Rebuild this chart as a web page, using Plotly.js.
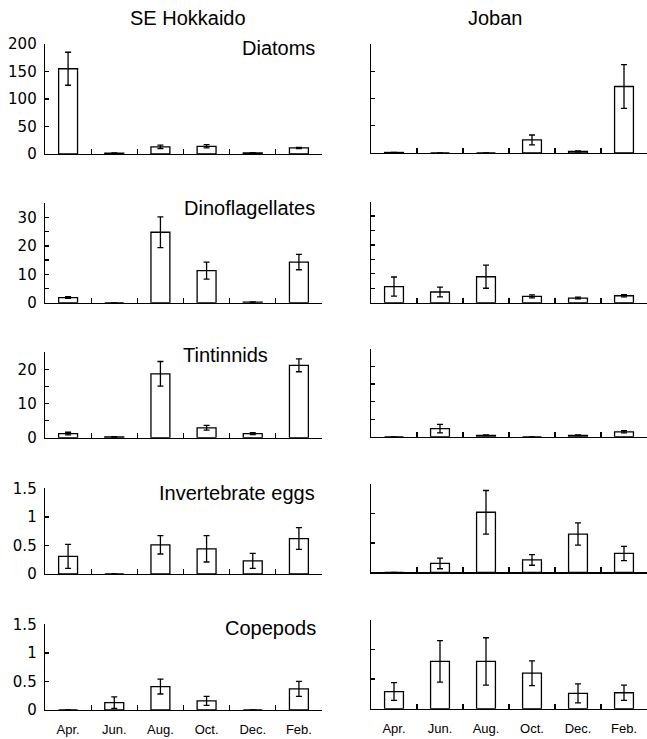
<!DOCTYPE html>
<html>
<head>
<meta charset="utf-8">
<script src="https://cdn.plot.ly/plotly-3.0.1.min.js"></script>
<style>html,body{margin:0;padding:0;background:#fff;}#chart{width:647px;height:739px;}</style>
</head>
<body>
<div id="chart"></div>
<script>
// ---- data ----
const months = ['Apr.', 'Jun.', 'Aug.', 'Oct.', 'Dec.', 'Feb.'];
const columnTitles = ['SE Hokkaido', 'Joban'];
const groupNames = ['Diatoms', 'Dinoflagellates', 'Tintinnids', 'Invertebrate eggs', 'Copepods'];

const hokDiatoms    = [155, 1.5, 13, 14, 2, 11];
const hokDiatomsErr = [30, 0.5, 3, 3, 0.5, 1];
const jobDiatoms    = [1, 0, 0, 24, 3, 122];
const jobDiatomsErr = [0.3, 0, 0, 9, 1, 40];

const hokDino    = [1.8, 0, 24.8, 11.3, 0.2, 14.3];
const hokDinoErr = [0.3, 0, 5.4, 3.0, 0.1, 2.7];
const jobDino    = [5.6, 3.7, 9.0, 2.2, 1.6, 2.4];
const jobDinoErr = [3.3, 1.7, 4.0, 0.5, 0.3, 0.4];

const hokTint    = [1.2, 0.2, 18.7, 2.9, 1.2, 21.2];
const hokTintErr = [0.4, 0.1, 3.6, 0.7, 0.3, 1.9];
const jobTint    = [0, 2.3, 0.4, 0, 0.4, 1.4];
const jobTintErr = [0, 1.2, 0.1, 0, 0.1, 0.3];

const hokEggs    = [0.31, 0, 0.51, 0.44, 0.23, 0.62];
const hokEggsErr = [0.21, 0, 0.16, 0.23, 0.13, 0.19];
const jobEggs    = [0, 0.15, 1.02, 0.21, 0.65, 0.32];
const jobEggsErr = [0, 0.09, 0.37, 0.09, 0.19, 0.12];

const hokCope    = [0, 0.13, 0.41, 0.16, 0, 0.37];
const hokCopeErr = [0, 0.10, 0.13, 0.08, 0, 0.13];
const jobCope    = [0.29, 0.80, 0.80, 0.60, 0.26, 0.27];
const jobCopeErr = [0.15, 0.35, 0.40, 0.21, 0.16, 0.13];

// y-axis tick values and labels per row
const diatomTicks = [0, 50, 100, 150, 200];
const diatomLabels = ['0', '50', '100', '150', '200'];
const dinoTicks = [0, 5, 10, 15, 20, 25, 30, 35];
const dinoLabels = ['0', '', '10', '', '20', '', '30', ''];
const tintTicks = [0, 5, 10, 15, 20, 25];
const tintLabels = ['0', '', '10', '', '20', ''];
const smallTicks = [0, 0.5, 1, 1.5];
const smallLabels = ['0', '0.5', '1', '1.5'];

// ---- assemble ----
const W = 647, H = 739;
const FONT = 'Liberation Sans, Arial, sans-serif';
const TICKFONT = 'DejaVu Sans, Liberation Sans, sans-serif';
const rows = [
  {vals: [hokDiatoms, jobDiatoms], errs: [hokDiatomsErr, jobDiatomsErr], ticks: diatomTicks, labels: diatomLabels,
   pix: [[44, 154], [44, 153]], title: {x: 317, y: 48, anchor: 'right'}},
  {vals: [hokDino, jobDino], errs: [hokDinoErr, jobDinoErr], ticks: dinoTicks, labels: dinoLabels,
   pix: [[203.3, 302.7], [201.7, 302.7]], title: {x: 317, y: 208, anchor: 'right'}},
  {vals: [hokTint, jobTint], errs: [hokTintErr, jobTintErr], ticks: tintTicks, labels: tintLabels,
   pix: [[352.3, 437.7], [349, 436.7]], title: {x: 225, y: 355, anchor: 'center'}},
  {vals: [hokEggs, jobEggs], errs: [hokEggsErr, jobEggsErr], ticks: smallTicks, labels: smallLabels,
   pix: [[488.3, 574], [484, 572.3]], title: {x: 317, y: 493, anchor: 'right'}},
  {vals: [hokCope, jobCope], errs: [hokCopeErr, jobCopeErr], ticks: smallTicks, labels: smallLabels,
   pix: [[624.3, 710], [620, 708.7]], title: {x: 318, y: 628, anchor: 'right'}}
];
const colX = [[45, 322], [371, 647]];

const traces = [];
const layout = {
  width: W, height: H,
  margin: {l: 0, r: 0, t: 0, b: 0},
  paper_bgcolor: '#fff', plot_bgcolor: '#fff',
  showlegend: false,
  bargap: 0.59,
  font: {family: FONT, color: '#000'},
  annotations: []
};

rows.forEach((row, r) => {
  for (let c = 0; c < 2; c++) {
    const idx = r * 2 + c + 1;
    const xs = idx === 1 ? '' : String(idx);
    traces.push({
      type: 'bar',
      x: months,
      y: row.vals[c],
      xaxis: 'x' + xs, yaxis: 'y' + xs,
      marker: {color: '#fff', line: {color: '#000', width: 1.3}},
      error_y: {type: 'data', array: row.errs[c], visible: true, color: '#000', thickness: 1.3, width: 3},
      hoverinfo: 'skip'
    });
    const ymax = row.ticks[row.ticks.length - 1];
    layout['xaxis' + xs] = {
      domain: [colX[c][0] / W, colX[c][1] / W],
      anchor: 'y' + xs,
      type: 'category',
      range: [-0.5, 5.5],
      showline: true, linecolor: '#000', linewidth: 1.3,
      ticks: 'inside', tickson: 'boundaries', ticklen: 5, tickwidth: 1.3, tickcolor: '#000',
      showgrid: false, zeroline: false,
      showticklabels: r === 4,
      tickfont: {family: FONT, size: 13, color: '#000'},
      ticklabelstandoff: 7,
      fixedrange: true
    };
    layout['yaxis' + xs] = {
      domain: [1 - row.pix[c][1] / H, 1 - row.pix[c][0] / H],
      anchor: 'x' + xs,
      range: [0, ymax],
      tickmode: 'array', tickvals: row.ticks, ticktext: row.labels,
      showline: true, linecolor: '#000', linewidth: 1.3,
      ticks: 'inside', ticklen: 4, tickwidth: 1.3, tickcolor: '#000',
      showgrid: false, zeroline: false,
      showticklabels: c === 0,
      tickfont: {family: TICKFONT, size: 15, color: '#000'},
      ticklabelstandoff: 4,
      fixedrange: true
    };
  }
  layout.annotations.push({
    text: groupNames[r], xref: 'paper', yref: 'paper',
    x: row.title.x / W, y: 1 - row.title.y / H,
    xanchor: row.title.anchor, yanchor: 'middle', showarrow: false,
    font: {family: FONT, size: 20, color: '#000'}
  });
});

layout.annotations.push({
  text: columnTitles[0], xref: 'paper', yref: 'paper', x: 188 / W, y: 1 - 18 / H,
  xanchor: 'center', yanchor: 'middle', showarrow: false, font: {family: FONT, size: 20, color: '#000'}
});
layout.annotations.push({
  text: columnTitles[1], xref: 'paper', yref: 'paper', x: 496 / W, y: 1 - 18 / H,
  xanchor: 'center', yanchor: 'middle', showarrow: false, font: {family: FONT, size: 20, color: '#000'}
});

Plotly.newPlot('chart', traces, layout, {staticPlot: true, displayModeBar: false});
</script>
</body>
</html>
